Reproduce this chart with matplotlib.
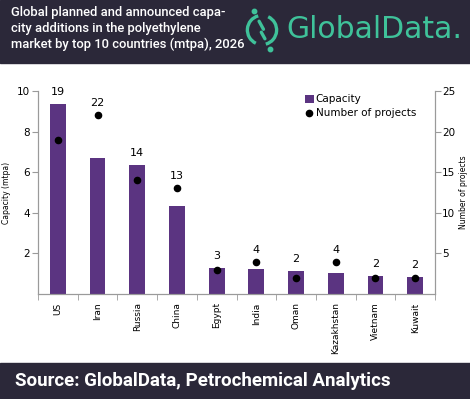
import numpy as np
import matplotlib
matplotlib.use('Agg')
import matplotlib.pyplot as plt
from matplotlib import patches
from matplotlib.lines import Line2D

countries = ['US', 'Iran', 'Russia', 'China', 'Egypt', 'India', 'Oman',
             'Kazakhstan', 'Vietnam', 'Kuwait']
capacity = [9.36, 6.68, 6.35, 4.33, 1.27, 1.22, 1.15, 1.05, 0.89, 0.82]
projects = [19, 22, 14, 13, 3, 4, 2, 4, 2, 2]
left_ticks = [2, 4, 6, 8, 10]
right_ticks = [5, 10, 15, 20, 25]

title = ('Global planned and announced capa-\n'
         'city additions in the polyethylene\n'
         'market by top 10 countries (mtpa), 2026')
source = 'Source: GlobalData, Petrochemical Analytics'

BAR = '#5b3481'
DARK = '#2b2839'
TEAL = '#3fc29a'
GRID = '#9a9a9a'

W, H = 470, 399
plt.rcParams['font.family'] = ['DejaVu Sans']

fig = plt.figure(figsize=(W / 100, H / 100), dpi=100)

# header / footer bands, kept under everything else
fig.patches.append(patches.Rectangle((0, (H - 63) / H), 1, 63 / H,
                                     transform=fig.transFigure, color=DARK, zorder=-5))
fig.patches.append(patches.Rectangle((0, 0), 1, 36 / H,
                                     transform=fig.transFigure, color=DARK, zorder=-5))
fig.text(11 / W, (H - 6) / H, title, color='white', fontsize=9.4, va='top', ha='left',
         linespacing=1.28, family=['Roboto', 'DejaVu Sans'], fontweight='medium')
fig.text(15 / W, (H - 381) / H, source, color='white', fontsize=13.5, va='center',
         ha='left', fontweight='bold', family=['Roboto', 'DejaVu Sans'])

# logo
fig.text(286 / W, (H - 30) / H, 'GlobalData.', color=TEAL, fontsize=21.5,
         va='center', ha='left')
lax = fig.add_axes([243 / W, (H - 55) / H, 38 / W, 50 / H])
lax.set_xlim(-1.3, 1.3)
lax.set_ylim(-1.5, 1.5)
lax.set_aspect('equal')
lax.axis('off')
lax.add_patch(patches.Arc((0, 0), 2, 2, theta1=105, theta2=245, color=TEAL, lw=2.4))
lax.add_patch(patches.Arc((0, 0), 2, 2, theta1=-75, theta2=65, color=TEAL, lw=2.4))
lax.plot([-0.2, 0.1], [0.6, 0.05], color=TEAL, lw=2.4, solid_capstyle='round')
lax.plot([-0.05, 0.2], [-0.15, -0.6], color=TEAL, lw=2.4, solid_capstyle='round')
lax.plot([-0.55, 0.55], [1.3, -1.3], 'o', color=TEAL, ms=3.2)

# chart
ax = fig.add_axes([38 / W, 105 / H, 397 / W, 203 / H])
x = np.arange(len(countries))
ax.bar(x, capacity, width=0.4, color=BAR, zorder=2)
ax.set_xlim(-0.5, len(countries) - 0.5)
ax.set_ylim(0, 10)
ax.set_yticks(left_ticks)
ax.set_xticks(x, countries, rotation=90, fontsize=6.5)
ax.set_xticks(np.arange(-0.5, len(countries), 1), minor=True)
ax.tick_params(axis='x', which='major', length=0, pad=6)
ax.tick_params(axis='x', which='minor', length=4, color=GRID)
ax.tick_params(axis='y', length=4, color=GRID, labelsize=7.5, pad=2)
ax.set_ylabel('Capacity (mtpa)', fontsize=5.5, labelpad=4)

ax2 = ax.twinx()
ax2.scatter(x, projects, s=20, color='black', zorder=3)
ax2.set_ylim(0, 25)
ax2.set_yticks(right_ticks)
ax2.tick_params(axis='y', length=4, color=GRID, labelsize=7.5, pad=1)
ax2.set_ylabel('Number of projects', fontsize=5.5, labelpad=3)

for a in (ax, ax2):
    a.spines['top'].set_visible(False)
    for s in ('left', 'right', 'bottom'):
        a.spines[s].set_color(GRID)
        a.spines[s].set_linewidth(0.8)

ratio = 25 / 10
for i, (c, n) in enumerate(zip(capacity, projects)):
    top = max(c * ratio, n)
    ax2.annotate(str(n), (i, top), xytext=(0, 5), textcoords='offset points',
                 ha='center', va='bottom', fontsize=8)

handles = [patches.Patch(facecolor=BAR),
           Line2D([], [], marker='o', ls='', color='black', markersize=4.5)]
fig.legend(handles, ['Capacity', 'Number of projects'], loc='upper left',
           bbox_to_anchor=(300 / W, (H - 89) / H), frameon=False, fontsize=7.5,
           handlelength=0.8, handleheight=0.8, handletextpad=0.2, borderpad=0,
           labelspacing=0.4)

fig.savefig('out.png', dpi=100)
